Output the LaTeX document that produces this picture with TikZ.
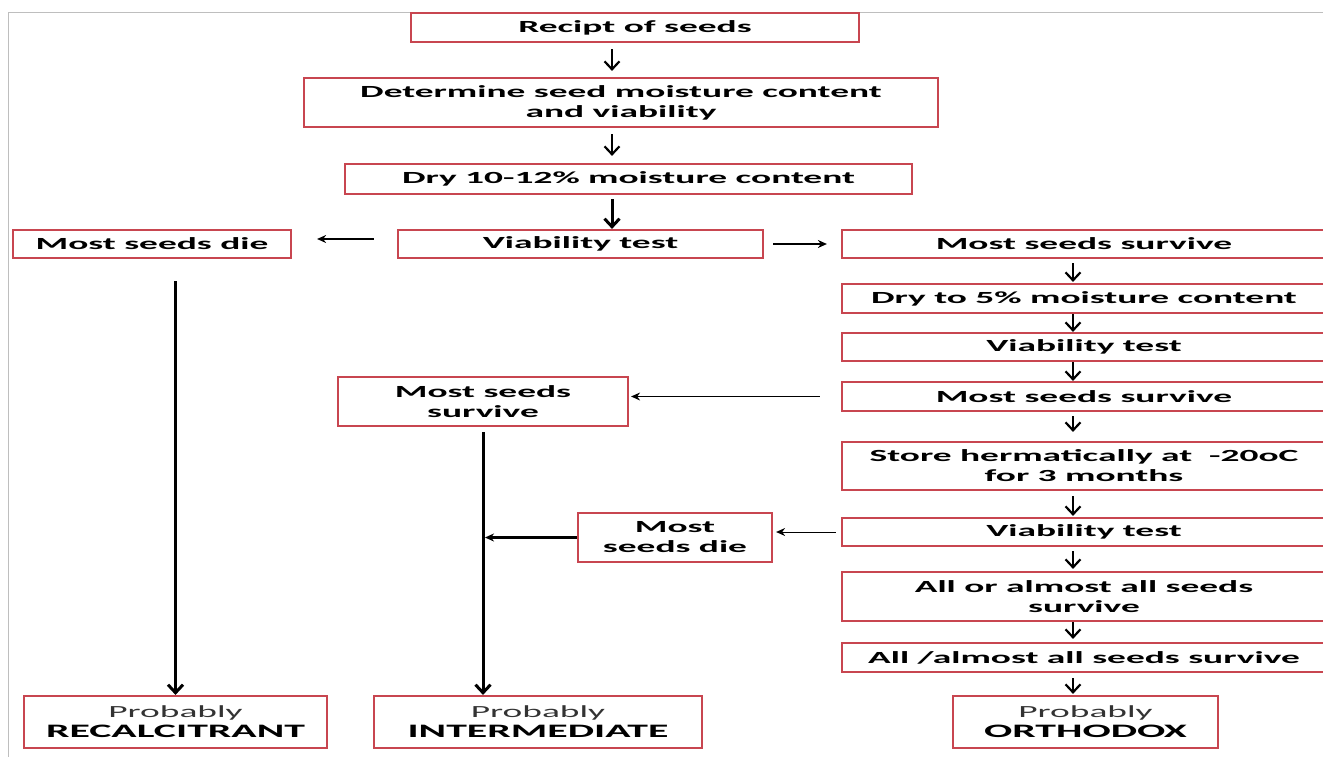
\documentclass[tikz,border=0pt]{standalone}
\usepackage{fontspec}
\setmainfont[FakeStretch=2.2]{Carlito}
\usetikzlibrary{arrows.meta}
\definecolor{boxred}{RGB}{200,70,80}
\definecolor{framegray}{RGB}{190,190,190}
\tikzset{
    box/.style={draw=boxred, line width=2.2pt, fill=white, align=center, inner sep=0pt,
        font=\fontsize{17}{20}\selectfont\bfseries},
    result/.style={box, minimum height=52pt},
    down/.style={-{Straight Barb[length=8pt,width=15pt]}, line width=2.2pt},
    side/.style={-{Stealth[length=9pt,width=8pt]}, line width=1pt},
    longline/.style={-{Straight Barb[length=8pt,width=15pt]}, line width=3pt},
}
\newcommand{\probably}[1]{{\mdseries\color{black!80}Probably}\\{\fontsize{19}{22}\selectfont #1}}
\begin{document}
\begin{tikzpicture}[x=1pt,y=-1pt]
        \useasboundingbox (0,0) rectangle (1323,756);
        % Rahmen
        \draw[framegray, line width=1pt] (8,12) rectangle (1340,780);

        % Hauptspalte oben
        \node[box, minimum width=448pt, minimum height=29pt] (recipt) at (635,27.5) {Recipt of seeds};
        \node[box, minimum width=634pt, minimum height=49pt] (determine) at (621,102.5)
            {Determine seed moisture content\\and viability};
        \node[box, minimum width=567pt, minimum height=30pt] (dryA) at (628.5,179) {Dry 10-12\% moisture content};
        \node[box, minimum width=365pt, minimum height=28pt] (viabA) at (580.5,244) {Viability test};
        \node[box, minimum width=278pt, minimum height=28pt] (dieA) at (152,244) {Most seeds die};

        % rechte Spalte
        \node[box, minimum width=484pt, minimum height=28pt] (mssA) at (1084,244) {Most seeds survive};
        \node[box, minimum width=484pt, minimum height=29pt] (dryB) at (1084,298.5) {Dry to 5\% moisture content};
        \node[box, minimum width=484pt, minimum height=28pt] (viabB) at (1084,347) {Viability test};
        \node[box, minimum width=484pt, minimum height=29pt] (mssB) at (1084,396.5) {Most seeds survive};
        \node[box, minimum width=484pt, minimum height=48pt] (store) at (1084,466)
            {Store hermatically at\ \ -20oC\\for 3 months};
        \node[box, minimum width=484pt, minimum height=28pt] (viabC) at (1084,532) {Viability test};
        \node[box, minimum width=484pt, minimum height=49pt] (allor) at (1084,596.5)
            {All or almost all seeds\\survive};
        \node[box, minimum width=484pt, minimum height=29pt] (allalm) at (1084,657.5) {All /almost all seeds survive};

        % Mitte
        \node[box, minimum width=290pt, minimum height=49pt] (mssC) at (483,401.5) {Most seeds\\survive};
        \node[box, minimum width=194pt, minimum height=49pt] (dieB) at (675,537.5) {Most\\seeds die};

        % Ergebnisse
        \node[result, minimum width=303pt] (recal) at (175.5,722) {\probably{RECALCITRANT}};
        \node[result, minimum width=328pt] (inter) at (538,722) {\probably{INTERMEDIATE}};
        \node[result, minimum width=265pt] (ortho) at (1085.5,722) {\probably{ORTHODOX}};

        % Pfeile
        \coordinate (tx) at (612,0);
        \coordinate (rx) at (1073,0);
        \draw[down, shorten <=6pt, shorten >=6pt] (recipt.south -| tx) -- (determine.north -| tx);
        \draw[down, shorten <=6pt, shorten >=7pt] (determine.south -| tx) -- (dryA.north -| tx);
        \draw[down, line width=3pt, shorten <=4pt] (dryA.south -| tx) -- (viabA.north -| tx);
        \draw[side, line width=1.3pt, shorten <=23pt, shorten >=25pt] ([yshift=5pt]viabA.west) -- ([yshift=5pt]dieA.east);
        \draw[side, line width=2.2pt, shorten <=9pt, shorten >=14pt] (viabA.east) -- (mssA.west);

        \draw[down, shorten <=4pt, shorten >=1pt] (mssA.south -| rx) -- (dryB.north -| rx);
        \draw[down] (dryB.south -| rx) -- (viabB.north -| rx);
        \draw[down] (viabB.south -| rx) -- (mssB.north -| rx);
        \draw[down, shorten <=4pt, shorten >=9pt] (mssB.south -| rx) -- (store.north -| rx);
        \draw[down, shorten <=5pt, shorten >=1pt] (store.south -| rx) -- (viabC.north -| rx);
        \draw[down, shorten <=4pt, shorten >=2pt] (viabC.south -| rx) -- (allor.north -| rx);
        \draw[down, shorten >=3pt] (allor.south -| rx) -- (allalm.north -| rx);
        \draw[down, shorten <=5pt, shorten >=1pt] (allalm.south -| rx) -- (ortho.north -| rx);

        \draw[side, shorten <=21pt, shorten >=2pt] (mssB.west) -- (mssB.west -| mssC.east);
        \draw[side, shorten <=5pt, shorten >=3pt] (viabC.west) -- (viabC.west -| dieB.east);
        \draw[side, line width=2.8pt, shorten >=2pt] (dieB.west) -- (dieB.west -| mssC);

        \draw[longline, shorten <=22pt] (dieA.south -| recal) -- (recal.north);
        \draw[longline, shorten <=5pt] (mssC.south) -- (mssC.south |- inter.north);
\end{tikzpicture}
\end{document}
